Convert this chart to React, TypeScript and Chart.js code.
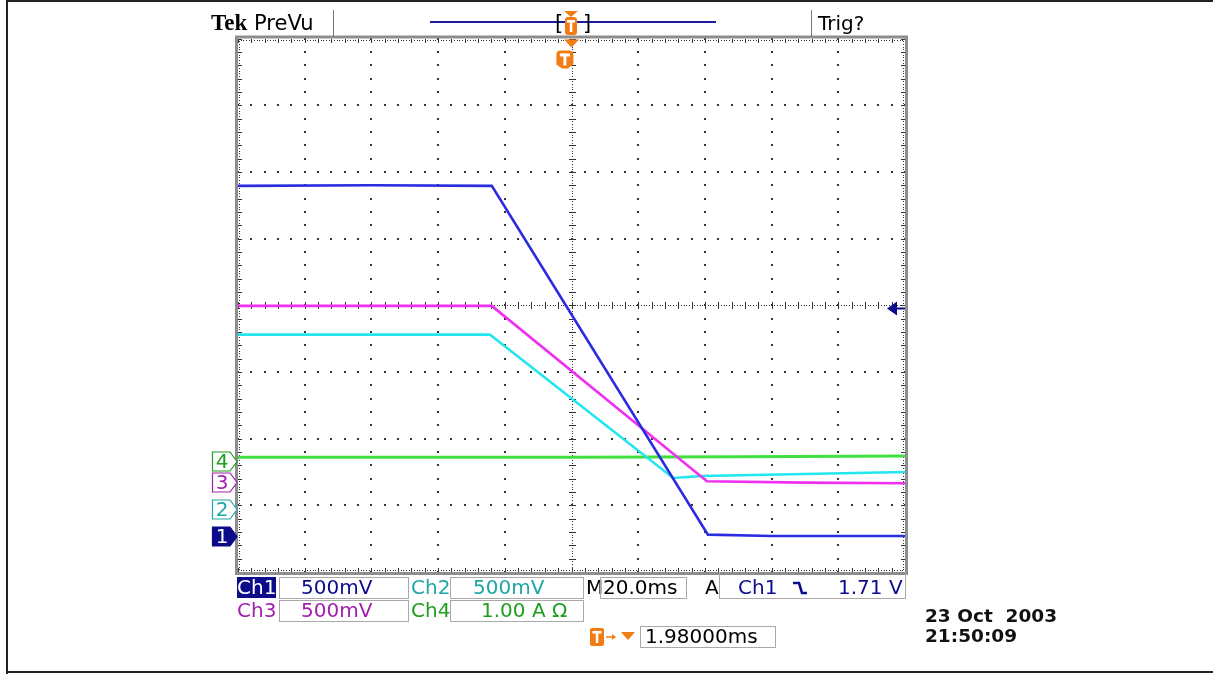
import React, { useEffect, useRef } from "react";
import { Chart, registerables } from "chart.js";

Chart.register(...registerables);

// Horizontal axis: time in ms (20 ms/div, 10 divisions); vertical axis: screen divisions (8)
const X_MIN = -100;
const X_MAX = 100;
const X_STEP = 20;
const Y_MIN = -4;
const Y_MAX = 4;
const Y_STEP = 1;

// Ch1 (blue)
const ch1Time = [-100, -60, -23.9, 40.9, 60, 100];
const ch1Div = [1.79, 1.8, 1.79, -3.44, -3.46, -3.46];
// Ch2 (cyan)
const ch2Time = [-100, -60, -24.5, 30.5, 39, 70, 100];
const ch2Div = [-0.44, -0.44, -0.44, -2.59, -2.56, -2.53, -2.5];
// Ch3 (magenta)
const ch3Time = [-100, -60, -23.9, 40.6, 70, 100];
const ch3Div = [-0.01, -0.01, -0.01, -2.64, -2.66, -2.67];
// Ch4 (green)
const ch4Time = [-100, -50, 0, 50, 100];
const ch4Div = [-2.28, -2.28, -2.28, -2.27, -2.26];

// Ground reference markers (channel label, level in divisions)
const groundLabels = ["4", "3", "2", "1"];
const groundDiv = [-2.33, -2.65, -3.05, -3.46];

// Readouts
const ch1Scale = "500mV";
const ch2Scale = "500mV";
const ch3Scale = "500mV";
const ch4Scale = "1.00 A \u03A9";
const timeBase = "20.0ms";
const triggerSource = "Ch1";
const triggerLevelV = 1.71;
const triggerLevelText = "1.71 V";
const triggerDelayMs = 1.98;
const triggerDelayText = "1.98000ms";
const dateText = "23 Oct  2003";
const timeText = "21:50:09";
const ch1VoltsPerDiv = 0.5;

const W = 1213;
const H = 674;
const PLOT_LEFT = 238;
const PLOT_TOP = 38.5;
const PLOT_RIGHT = 905;
const PLOT_BOTTOM = 572;

const NAVY = "#0c0c8a";
const TEAL = "#1fa6a6";
const PURPLE = "#a21fae";
const GREEN = "#1f9f1f";
const ORANGE = "#f27c14";
const TRACE1 = "#2b2be0";
const TRACE2 = "#22e6ee";
const TRACE3 = "#f02ff0";
const TRACE4 = "#3fe03f";
const FONT = '"DejaVu Sans", sans-serif';

const toPoints = (t: number[], v: number[]) => t.map((x, i) => ({ x, y: v[i] }));

function range(a: number, b: number, s: number) {
  const out: number[] = [];
  for (let v = a; v <= b + 1e-9; v += s) out.push(Math.round(v * 1000) / 1000);
  return out;
}

const graticulePlugin = {
  id: "graticule",
  beforeDatasetsDraw(chart: any) {
    const { ctx, chartArea: a } = chart;
    const xs = chart.scales.x;
    const ys = chart.scales.y;
    const dx = xs.getPixelForValue(X_STEP) - xs.getPixelForValue(0);
    const dy = ys.getPixelForValue(0) - ys.getPixelForValue(Y_STEP);
    const nX = Math.round((X_MAX - X_MIN) / X_STEP);
    const nY = Math.round((Y_MAX - Y_MIN) / Y_STEP);
    ctx.save();
    ctx.fillStyle = "#333";
    // interior grid lines: dot every 1/5 division
    range(X_MIN, X_MAX, X_STEP).forEach((v) => {
      if (v === X_MIN || v === X_MAX || v === 0) return;
      const px = Math.round(xs.getPixelForValue(v));
      for (let k = 0; k <= nY * 5; k++) {
        const py = Math.round(a.top + (k * dy) / 5);
        ctx.fillRect(px - 1, py - 1, 2, 2);
      }
    });
    range(Y_MIN, Y_MAX, Y_STEP).forEach((v) => {
      if (v === Y_MIN || v === Y_MAX || v === 0) return;
      const py = Math.round(ys.getPixelForValue(v));
      for (let k = 0; k <= nX * 5; k++) {
        const px = Math.round(a.left + (k * dx) / 5);
        ctx.fillRect(px - 1, py - 1, 2, 2);
      }
    });
    // center cross: fine dots with ticks
    const cx = Math.round(xs.getPixelForValue(0));
    const cy = Math.round(ys.getPixelForValue(0));
    for (let k = 0; k <= nY * 25; k++) {
      const py = Math.round(a.top + (k * dy) / 25);
      ctx.fillRect(cx, py, 1, 1);
    }
    for (let k = 0; k <= nY * 5; k++) {
      const py = Math.round(a.top + (k * dy) / 5);
      ctx.fillRect(cx - 3, py, 7, 1);
    }
    for (let k = 0; k <= nX * 25; k++) {
      const px = Math.round(a.left + (k * dx) / 25);
      ctx.fillRect(px, cy, 1, 1);
    }
    for (let k = 0; k <= nX * 5; k++) {
      const px = Math.round(a.left + (k * dx) / 5);
      ctx.fillRect(px, cy - 3, 1, 7);
    }
    // frame edge ticks
    const L = Math.round(a.left);
    const R = Math.round(a.right);
    const T = Math.round(a.top);
    const B = Math.round(a.bottom);
    for (let k = 0; k <= nX * 25; k++) {
      const px = Math.round(a.left + (k * dx) / 25);
      ctx.fillRect(px, T + 1, 1, 1);
      ctx.fillRect(px, B - 2, 1, 1);
    }
    for (let k = 0; k <= nY * 25; k++) {
      const py = Math.round(a.top + (k * dy) / 25);
      ctx.fillRect(L + 1, py, 1, 1);
      ctx.fillRect(R - 2, py, 1, 1);
    }
    for (let k = 0; k <= nX * 5; k++) {
      const px = Math.round(a.left + (k * dx) / 5);
      ctx.fillRect(px, T, 1, 4);
      ctx.fillRect(px, B - 4, 1, 4);
    }
    for (let k = 0; k <= nY * 5; k++) {
      const py = Math.round(a.top + (k * dy) / 5);
      ctx.fillRect(L, py, 4, 1);
      ctx.fillRect(R - 4, py, 4, 1);
    }
    // gray frame
    ctx.strokeStyle = "#8e8e8e";
    ctx.lineWidth = 3;
    ctx.strokeRect(a.left - 1.5, a.top - 1.5, a.right - a.left + 3, a.bottom - a.top + 3);
    ctx.restore();
  },
  afterDraw(chart: any) {
    const { ctx, chartArea: a } = chart;
    const xs = chart.scales.x;
    const ys = chart.scales.y;
    ctx.save();
    // ground markers
    const styles: Record<string, { fill: string; stroke: string; text: string }> = {
      "1": { fill: NAVY, stroke: NAVY, text: "#fff" },
      "2": { fill: "#fff", stroke: TEAL, text: TEAL },
      "3": { fill: "#fff", stroke: PURPLE, text: PURPLE },
      "4": { fill: "#fff", stroke: GREEN, text: GREEN },
    };
    groundLabels.forEach((lab, i) => {
      const py = Math.round(ys.getPixelForValue(groundDiv[i])) + 0.5;
      const s = styles[lab];
      const l = a.left - 25.5;
      const r = a.left - 8;
      const tip = a.left - 1;
      ctx.beginPath();
      ctx.moveTo(l, py - 9.5);
      ctx.lineTo(r, py - 9.5);
      ctx.lineTo(tip, py);
      ctx.lineTo(r, py + 9.5);
      ctx.lineTo(l, py + 9.5);
      ctx.closePath();
      ctx.fillStyle = s.fill;
      ctx.fill();
      ctx.strokeStyle = s.stroke;
      ctx.lineWidth = 1.2;
      ctx.stroke();
      ctx.fillStyle = s.text;
      ctx.font = "20px " + FONT;
      ctx.textAlign = "center";
      ctx.textBaseline = "middle";
      ctx.fillText(lab, l + 9.5, py + 1);
    });
    // trigger level arrow (right side)
    const ch1Ground = groundDiv[groundLabels.indexOf("1")];
    const ty = Math.round(ys.getPixelForValue(ch1Ground + triggerLevelV / ch1VoltsPerDiv)) + 0.5;
    ctx.fillStyle = NAVY;
    ctx.beginPath();
    ctx.moveTo(a.right - 18, ty);
    ctx.lineTo(a.right - 8, ty - 7);
    ctx.lineTo(a.right - 8, ty + 7);
    ctx.closePath();
    ctx.fill();
    ctx.fillRect(a.right - 9, ty - 1, 9, 2);
    // expansion point triangle (center) and trigger T badge
    const cx = xs.getPixelForValue(0);
    ctx.fillStyle = ORANGE;
    ctx.beginPath();
    ctx.moveTo(cx - 7.5, a.top + 1);
    ctx.lineTo(cx + 7.5, a.top + 1);
    ctx.lineTo(cx, a.top + 9);
    ctx.closePath();
    ctx.fill();
    const tx = xs.getPixelForValue(-triggerDelayMs);
    const bw = 17;
    const by = a.top + 12;
    const bh = 18;
    ctx.beginPath();
    const r = 4;
    ctx.moveTo(tx - bw / 2 + r, by);
    ctx.lineTo(tx + bw / 2 - r, by);
    ctx.quadraticCurveTo(tx + bw / 2, by, tx + bw / 2, by + r);
    ctx.lineTo(tx + bw / 2, by + bh - 4);
    ctx.lineTo(tx + 3, by + bh);
    ctx.lineTo(tx - 3, by + bh);
    ctx.lineTo(tx - bw / 2, by + bh - 4);
    ctx.lineTo(tx - bw / 2, by + r);
    ctx.quadraticCurveTo(tx - bw / 2, by, tx - bw / 2 + r, by);
    ctx.closePath();
    ctx.fill();
    ctx.fillStyle = "#fff";
    ctx.fillRect(tx - 5, by + 3, 10, 3);
    ctx.fillRect(tx - 1.5, by + 3, 3, 12);
    ctx.restore();
  },
};

function Txt(props: any) {
  const { x, y, h = 21, color = "#000", size = 20, bold, family, children, w, align } = props;
  return (
    <div
      style={{
        position: "absolute",
        left: x,
        top: y,
        height: h,
        width: w,
        lineHeight: h + "px",
        fontSize: size,
        color,
        fontFamily: family || FONT,
        fontWeight: bold ? "bold" : "normal",
        whiteSpace: "pre",
        textAlign: align || "left",
      }}
    >
      {children}
    </div>
  );
}

function Box(props: any) {
  const { x, y, w, h = 22, noTop } = props;
  return (
    <div
      style={{
        position: "absolute",
        left: x,
        top: y,
        width: w,
        height: h,
        boxSizing: "border-box",
        border: "1px solid #a9a9a9",
        borderTop: noTop ? "none" : "1px solid #a9a9a9",
      }}
    />
  );
}

export default function App() {
  const canvasRef = useRef<HTMLCanvasElement | null>(null);

  useEffect(() => {
    const canvas = canvasRef.current;
    if (!canvas) return;
    const chart = new Chart(canvas, {
      type: "line",
      data: {
        datasets: [
          { label: "Ch1", data: toPoints(ch1Time, ch1Div), borderColor: TRACE1, borderWidth: 2.6, order: 1 },
          { label: "Ch3", data: toPoints(ch3Time, ch3Div), borderColor: TRACE3, borderWidth: 2.6, order: 2 },
          { label: "Ch2", data: toPoints(ch2Time, ch2Div), borderColor: TRACE2, borderWidth: 2.6, order: 3 },
          { label: "Ch4", data: toPoints(ch4Time, ch4Div), borderColor: TRACE4, borderWidth: 3, order: 4 },
        ],
      },
      options: {
        animation: false,
        responsive: false,
        maintainAspectRatio: false,
        devicePixelRatio: 1,
        parsing: false as any,
        layout: {
          padding: {
            left: PLOT_LEFT,
            top: PLOT_TOP,
            right: W - PLOT_RIGHT,
            bottom: H - PLOT_BOTTOM,
          },
        },
        elements: { point: { radius: 0 }, line: { tension: 0 } },
        scales: {
          x: { type: "linear", min: X_MIN, max: X_MAX, display: false },
          y: { type: "linear", min: Y_MIN, max: Y_MAX, display: false },
        },
        plugins: { legend: { display: false }, tooltip: { enabled: false } },
      },
      plugins: [graticulePlugin],
    } as any);
    return () => chart.destroy();
  }, []);

  return (
    <div
      style={{
        position: "fixed",
        left: 0,
        top: 0,
        width: W,
        height: H,
        background: "#fff",
        overflow: "hidden",
      }}
    >
      {/* page frame */}
      <div style={{ position: "absolute", left: 6, top: 0, width: 2, height: H, background: "#222" }} />
      <div style={{ position: "absolute", left: 6, top: 0, width: W, height: 2, background: "#222" }} />
      <div style={{ position: "absolute", left: 6, top: 671, width: W, height: 2, background: "#222" }} />

      <canvas
        ref={canvasRef}
        width={W}
        height={H}
        style={{ position: "absolute", left: 0, top: 0, width: W, height: H }}
      />

      {/* header */}
      <Txt x={211} y={11} h={24} size={23} bold family='"Liberation Serif", serif' color="#000">
        Tek
      </Txt>
      <Txt x={254} y={11} h={24} size={21} color="#000">
        PreVu
      </Txt>
      <div style={{ position: "absolute", left: 333, top: 10, width: 1, height: 27, background: "#777" }} />
      <div style={{ position: "absolute", left: 430, top: 21, width: 286, height: 2, background: "#1c1ca0" }} />
      <Txt x={555} y={10} h={26} size={21} color="#000">[</Txt>
      <Txt x={583} y={10} h={26} size={21} color="#000">]</Txt>
      <svg style={{ position: "absolute", left: 563, top: 11 }} width={16} height={25}>
        <polygon points="1,0 15,0 8,6" fill={ORANGE} />
        <rect x={2} y={6} width={12} height={18} rx={3} fill={ORANGE} />
        <rect x={4} y={9} width={8} height={2.5} fill="#fff" />
        <rect x={6.8} y={9} width={2.5} height={12} fill="#fff" />
      </svg>
      <div style={{ position: "absolute", left: 811, top: 10, width: 1, height: 27, background: "#777" }} />
      <Txt x={818} y={11} h={24} size={20} color="#000">
        Trig?
      </Txt>

      {/* readout row 1 */}
      <div style={{ position: "absolute", left: 237, top: 577, width: 39, height: 21, background: NAVY }} />
      <Txt x={237} y={577} w={39} align="center" color="#fff">Ch1</Txt>
      <Box x={279} y={577} w={130} />
      <Txt x={301} y={577} color={NAVY}>{ch1Scale}</Txt>
      <Txt x={411} y={577} color={TEAL}>Ch2</Txt>
      <Box x={450} y={577} w={134} />
      <Txt x={473} y={577} color={TEAL}>{ch2Scale}</Txt>
      <Txt x={586} y={577} color="#000">M</Txt>
      <Box x={600} y={577} w={87} />
      <Txt x={603} y={577} color="#000">{timeBase}</Txt>
      <Txt x={705} y={577} color="#000">A</Txt>
      <Box x={719} y={572} w={187} h={27} noTop />
      <Txt x={738} y={577} color={NAVY}>{triggerSource}</Txt>
      <svg style={{ position: "absolute", left: 792, top: 580 }} width={16} height={16}>
        <polyline points="1,3 7,3 10,13 15,13" fill="none" stroke={NAVY} strokeWidth={2.6} />
      </svg>
      <Txt x={838} y={577} color={NAVY}>{triggerLevelText}</Txt>

      {/* readout row 2 */}
      <Txt x={237} y={600} color={PURPLE}>Ch3</Txt>
      <Box x={279} y={600} w={130} />
      <Txt x={301} y={600} color={PURPLE}>{ch3Scale}</Txt>
      <Txt x={411} y={600} color={GREEN}>Ch4</Txt>
      <Box x={450} y={600} w={134} />
      <Txt x={481} y={600} color={GREEN}>{ch4Scale}</Txt>

      {/* readout row 3 */}
      <svg style={{ position: "absolute", left: 590, top: 627 }} width={48} height={20}>
        <rect x={0} y={1} width={14} height={18} rx={2} fill={ORANGE} />
        <rect x={2.5} y={4} width={9} height={2.5} fill="#fff" />
        <rect x={5.8} y={4} width={2.5} height={12} fill="#fff" />
        <line x1={16} y1={10} x2={24} y2={10} stroke={ORANGE} strokeWidth={1.5} />
        <polygon points="22,7 26,10 22,13" fill={ORANGE} />
        <polygon points="31,5 45,5 38,13" fill={ORANGE} />
      </svg>
      <Box x={640} y={626} w={136} />
      <Txt x={645} y={626} color="#000">{triggerDelayText}</Txt>

      {/* date/time */}
      <Txt x={925} y={605} size={18.5} bold color="#111">{dateText}</Txt>
      <Txt x={925} y={625} size={18.5} bold color="#111">{timeText}</Txt>
    </div>
  );
}
